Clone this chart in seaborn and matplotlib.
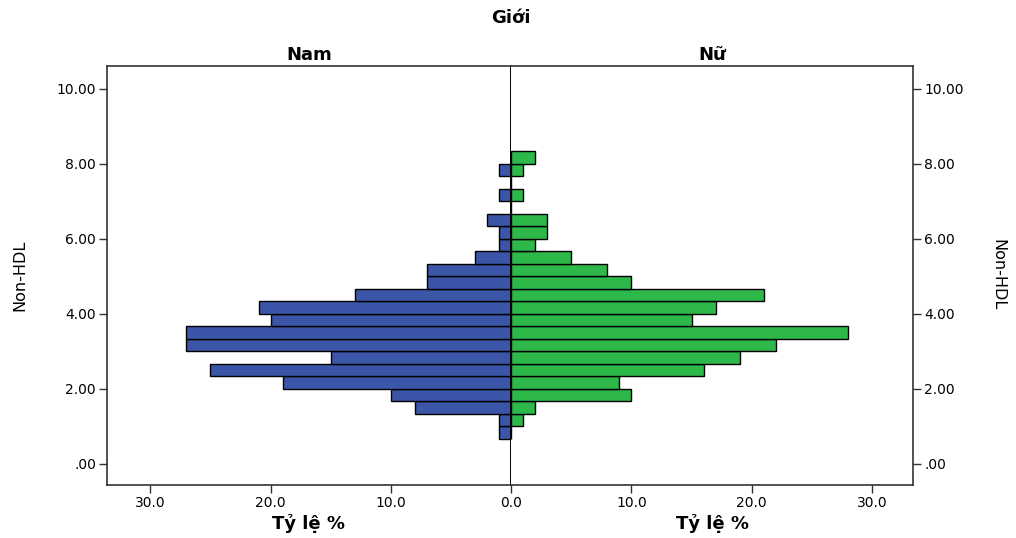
import numpy as np
import pandas as pd
import matplotlib
matplotlib.use('Agg')
import matplotlib.pyplot as plt
import seaborn as sns

# Non-HDL bins (width 1/3), from 0.67 up to 8.33
bin_edges = np.arange(2, 26) / 3
nam = [1, 1, 8, 10, 19, 25, 15, 27, 27, 20, 21, 13, 7, 7, 3, 1, 1, 2, 0, 1, 0, 1, 0]
nu = [0, 1, 2, 10, 9, 16, 19, 22, 28, 15, 17, 21, 10, 8, 5, 2, 3, 3, 0, 1, 0, 1, 2]
bin_mid = (bin_edges[:-1] + bin_edges[1:]) / 2

y_ticks = [0, 2, 4, 6, 8, 10]
y_labels = ['.00', '2.00', '4.00', '6.00', '8.00', '10.00']

blue = '#3B56A8'
green = '#2EB84A'
spine_col = '#333333'

df = pd.DataFrame({'nonhdl': bin_mid, 'nam': nam, 'nu': nu})

sns.set_style('white')
plt.rcParams['font.family'] = ['DejaVu Sans']
plt.rcParams['text.color'] = 'black'
plt.rcParams['axes.labelcolor'] = 'black'
plt.rcParams['xtick.color'] = 'black'
plt.rcParams['ytick.color'] = 'black'

fig = plt.figure(figsize=(10.16, 5.38), dpi=100)
ax_l = fig.add_axes([107 / 1016, 53 / 538, 404 / 1016, 419 / 538])
ax_r = fig.add_axes([511 / 1016, 53 / 538, 402 / 1016, 419 / 538])

sns.histplot(data=df, y='nonhdl', weights='nam', bins=list(bin_edges), ax=ax_l,
             color=blue, edgecolor='black', linewidth=1, alpha=1)
sns.histplot(data=df, y='nonhdl', weights='nu', bins=list(bin_edges), ax=ax_r,
             color=green, edgecolor='black', linewidth=1, alpha=1)

ax_l.set_xlim(33.6, 0)
ax_r.set_xlim(0, 33.4)
for ax in (ax_l, ax_r):
    ax.set_ylim(-0.56, 10.61)
    ax.set_yticks(y_ticks, y_labels)
    ax.set_ylabel('')
    ax.set_xlabel('Tỷ lệ %', fontsize=13, fontweight='bold', labelpad=3)
    for s in ax.spines.values():
        s.set_color(spine_col)
        s.set_linewidth(1.2)
    ax.tick_params(axis='both', direction='out', length=6, width=1,
                   color=spine_col, labelsize=10, pad=2)

ax_l.set_xticks([30, 20, 10, 0], ['30.0', '20.0', '10.0', '0.0'])
ax_r.set_xticks([10, 20, 30], ['10.0', '20.0', '30.0'])
ax_l.tick_params(bottom=True, left=True, right=False)
ax_r.tick_params(bottom=True, left=False, right=True, labelleft=False, labelright=True)
ax_l.spines['right'].set_color('black')
ax_l.spines['right'].set_linewidth(1.4)
ax_r.spines['left'].set_visible(False)

ax_l.set_title('Nam', fontsize=13, fontweight='bold', pad=4)
ax_r.set_title('Nữ', fontsize=13, fontweight='bold', pad=4)
fig.text(511 / 1016, 1 - 18 / 538, 'Giới', ha='center', va='center',
         fontsize=13, fontweight='bold')
fig.text(20 / 1016, 1 - 275 / 538, 'Non-HDL', rotation=90, ha='center',
         va='center', fontsize=11.5)
fig.text(998 / 1016, 1 - 275 / 538, 'Non-HDL', rotation=270, ha='center',
         va='center', fontsize=11.5)

fig.savefig('out.png', dpi=100)
